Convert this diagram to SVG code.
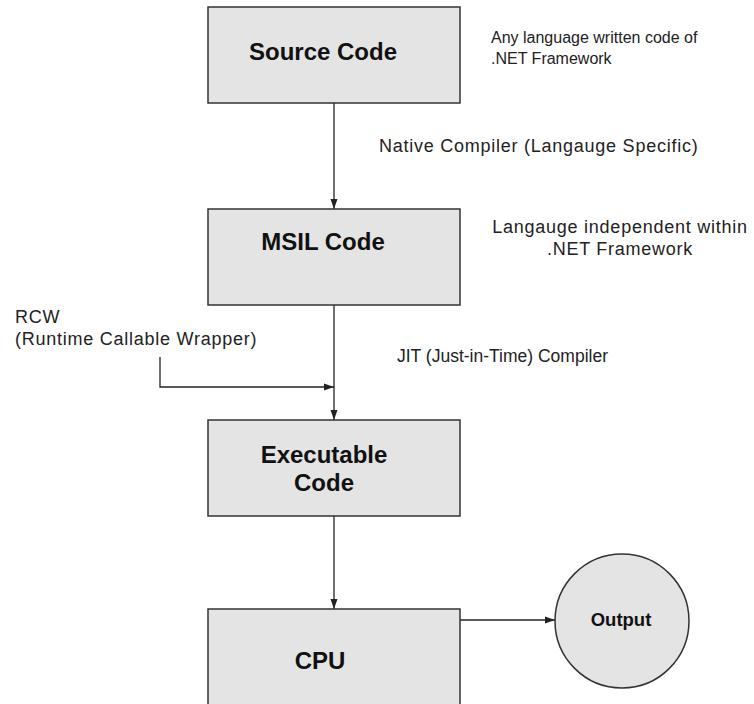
<svg xmlns="http://www.w3.org/2000/svg" width="754" height="704" viewBox="0 0 754 704">
<defs>
<style>
.box{fill:#e4e4e4;stroke:#333;stroke-width:1.5}
.title{font-family:"Liberation Sans",Arial,sans-serif;font-weight:bold;font-size:24px;fill:#111;text-anchor:middle}
.lbl{font-family:"Liberation Sans",Arial,sans-serif;font-size:18px;fill:#222}
.wide{letter-spacing:0.75px}
.small{font-size:16px}
.con{fill:none;stroke:#222;stroke-width:1.3}
</style>
<marker id="arr" viewBox="0 0 10 10" refX="10" refY="5" markerWidth="10" markerHeight="10" markerUnits="userSpaceOnUse" orient="auto">
<path d="M0,1.5 L10,5 L0,8.5 Z" fill="#222"/>
</marker>
</defs>
<rect width="754" height="704" fill="#fff"/>
<g id="connectors">
<line class="con" x1="334" y1="103" x2="334" y2="209" marker-end="url(#arr)"/>
<line class="con" x1="334" y1="305" x2="334" y2="420" marker-end="url(#arr)"/>
<path class="con" d="M160,357 V387 H334" marker-end="url(#arr)"/>
<line class="con" x1="334" y1="516" x2="334" y2="609" marker-end="url(#arr)"/>
<line class="con" x1="460" y1="620" x2="555" y2="620" marker-end="url(#arr)"/>
</g>
<g id="source">
<rect class="box" x="208" y="7" width="252" height="96"/>
<text class="title" x="323" y="60">Source Code</text>
</g>
<g id="msil">
<rect class="box" x="208" y="209" width="252" height="96"/>
<text class="title" x="323" y="250">MSIL Code</text>
</g>
<g id="executable">
<rect class="box" x="208" y="420" width="252" height="96"/>
<text class="title" x="324" y="463">Executable</text>
<text class="title" x="324" y="491">Code</text>
</g>
<g id="cpu">
<rect class="box" x="208" y="609" width="252" height="100"/>
<text class="title" x="320" y="669">CPU</text>
</g>
<g id="output">
<circle class="box" cx="622" cy="621" r="67"/>
<text class="title" x="621" y="626" style="font-size:18.5px">Output</text>
</g>
<g id="labels">
<text class="lbl small" x="491" y="43">Any language written code of</text>
<text class="lbl small" x="491" y="64">.NET Framework</text>
<text class="lbl wide" x="379" y="152">Native Compiler (Langauge Specific)</text>
<text class="lbl wide" x="620" y="233" text-anchor="middle">Langauge independent within</text>
<text class="lbl wide" x="620" y="255" text-anchor="middle">.NET Framework</text>
<text class="lbl" x="397" y="362" style="font-size:17.5px">JIT (Just-in-Time) Compiler</text>
<text class="lbl wide" x="15" y="323">RCW</text>
<text class="lbl wide" x="15" y="345">(Runtime Callable Wrapper)</text>
</g>
</svg>
